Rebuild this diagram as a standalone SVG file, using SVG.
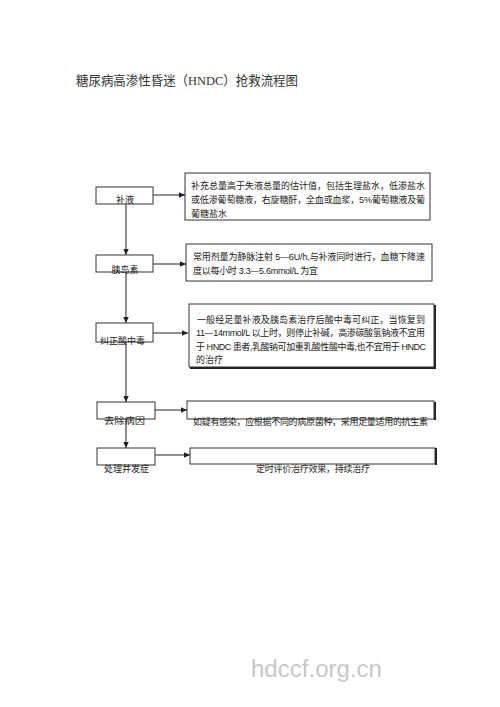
<svg xmlns="http://www.w3.org/2000/svg" width="500" height="707" viewBox="0 0 500 707">
<style>
.bg{fill:#fff}
.box{fill:#fff;stroke:#333;stroke-width:1}
.sh{fill:none;stroke:#222;stroke-width:2}
.t{font-family:"Liberation Sans","Noto Sans CJK SC",sans-serif;font-size:9px;fill:#222}
.ttl{font-family:"Liberation Serif","Noto Sans CJK SC",serif;font-size:13px;fill:#333}
.wm{font-family:"Liberation Sans",Arial,sans-serif;font-size:23px;fill:#c8c8c8}
.conn line{stroke:#222;stroke-width:1}
</style>
<defs>
<marker id="ah" viewBox="0 0 10 10" refX="10" refY="5" markerWidth="6" markerHeight="6" markerUnits="userSpaceOnUse" orient="auto"><path d="M0,0.5 L10,5 L0,9.5 z" fill="#222"/></marker>
</defs>
<rect class="bg" x="0" y="0" width="500" height="707"/>
<text class="ttl" x="76" y="85" textLength="222" lengthAdjust="spacingAndGlyphs">糖尿病高渗性昏迷（HNDC）抢救流程图</text>

<g id="connectors" class="conn">
<line x1="126" y1="204" x2="126" y2="255" marker-end="url(#ah)"/>
<line x1="126" y1="272" x2="126" y2="323" marker-end="url(#ah)"/>
<line x1="126" y1="342" x2="126" y2="402" marker-end="url(#ah)"/>
<line x1="126" y1="419" x2="126" y2="448" marker-end="url(#ah)"/>
<line x1="153" y1="195" x2="185" y2="195" marker-end="url(#ah)"/>
<line x1="153" y1="264" x2="186" y2="264" marker-end="url(#ah)"/>
<line x1="153" y1="333" x2="188" y2="333" marker-end="url(#ah)"/>
<line x1="155" y1="410" x2="187" y2="410" marker-end="url(#ah)"/>
<line x1="155" y1="455" x2="190" y2="455" marker-end="url(#ah)"/>
</g>

<g id="n-buye">
<rect class="box" x="96" y="187" width="57" height="17"/>
<text class="t" x="125" y="203" text-anchor="middle">补液</text>
</g>
<g id="n-yidaosu">
<rect class="box" x="96" y="255" width="57" height="17"/>
<text class="t" x="125" y="272.5" text-anchor="middle">胰岛素</text>
</g>
<g id="n-jiuzheng">
<rect class="box" x="96" y="323" width="57" height="19"/>
<text class="t" x="100" y="343.5" textLength="45" lengthAdjust="spacingAndGlyphs">纠正酸中毒</text>
</g>
<g id="n-quchu">
<rect class="box" x="97" y="402" width="58" height="17"/>
<text class="t" x="104" y="423.5" textLength="41" lengthAdjust="spacingAndGlyphs">去除病因</text>
</g>
<g id="n-chuli">
<rect class="box" x="97" y="448" width="58" height="17"/>
<text class="t" x="104" y="472" textLength="45" lengthAdjust="spacingAndGlyphs">处理并发症</text>
</g>

<g id="d-buye">
<rect class="box" x="185" y="173" width="245" height="47"/>
<text class="t" x="191" y="188.5" textLength="234" lengthAdjust="spacing">补充总量高于失液总量的估计值，包括生理盐水，低渗盐水</text>
<text class="t" x="191" y="202.5" textLength="234" lengthAdjust="spacing">或低渗葡萄糖液，右旋糖酐，全血或血浆，5%葡萄糖液及葡</text>
<text class="t" x="191" y="216.5">葡糖盐水</text>
</g>
<g id="d-yidaosu">
<rect class="box" x="186" y="244" width="246" height="37"/>
<text class="t" x="193" y="259.5" textLength="232" lengthAdjust="spacing">常用剂量为静脉注射  5—6U/h,与补液同时进行，血糖下降速</text>
<text class="t" x="193" y="273.5" textLength="125" lengthAdjust="spacing">度以每小时 3.3—5.6mmol/L 为宜</text>
</g>
<g id="d-jiuzheng">
<path class="sh" d="M435,305 V368 H190"/>
<rect class="box" x="189" y="304" width="245" height="63"/>
<text class="t" x="197" y="322.5" textLength="228" lengthAdjust="spacing">一般经足量补液及胰岛素治疗后酸中毒可纠正，当恢复到</text>
<text class="t" x="196" y="336" textLength="229" lengthAdjust="spacing">11—14mmol/L 以上时，则停止补碱，高渗碳酸氢钠液不宜用</text>
<text class="t" x="196" y="349.5" textLength="230" lengthAdjust="spacing">于 HNDC 患者,乳酸钠可加重乳酸性酸中毒,也不宜用于 HNDC</text>
<text class="t" x="196" y="363">的治疗</text>
</g>
<g id="d-quchu">
<path class="sh" d="M435,402 V420"/>
<rect class="box" x="187" y="401" width="247" height="18"/>
<text class="t" x="193" y="424.5" textLength="235" lengthAdjust="spacing">如疑有感染，应根据不同的病原菌种，采用足量适用的抗生素</text>
</g>
<g id="d-chuli">
<path class="sh" d="M436,448 V465"/>
<rect class="box" x="190" y="448" width="245" height="16"/>
<text class="t" x="256" y="471.5" textLength="114" lengthAdjust="spacing">定时评价治疗效果，持续治疗</text>
</g>

<text class="wm" x="251" y="677" textLength="131" lengthAdjust="spacingAndGlyphs">hdccf.org.cn</text>
</svg>
